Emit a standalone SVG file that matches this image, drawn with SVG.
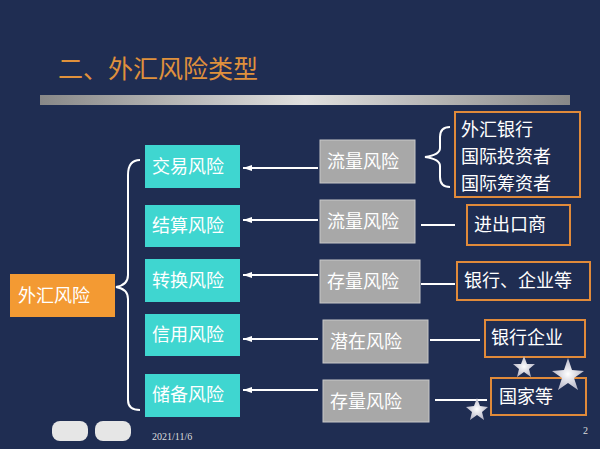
<svg xmlns="http://www.w3.org/2000/svg" width="600" height="449" viewBox="0 0 600 449">
<defs>
<style>
text{font-family:"Noto Sans CJK SC","Liberation Sans",sans-serif;}
.c{fill:#3fd6d0}
.g{fill:#a8a8a8;stroke:#c8c8c8;stroke-width:1}
.o{fill:none;stroke:#e08a3a;stroke-width:2}
.t{fill:#fff;font-size:18px}
.ln{stroke:#fff;stroke-width:2;fill:none}
</style>
<marker id="a" markerWidth="10" markerHeight="8" refX="9" refY="4" orient="auto" markerUnits="userSpaceOnUse"><path d="M0,1 L9,4 L0,7 Z" fill="#fff"/></marker>
<linearGradient id="bar" x1="0" x2="1"><stop offset="0" stop-color="#888"/><stop offset="0.5" stop-color="#e0e0e0"/><stop offset="1" stop-color="#888"/></linearGradient>
<radialGradient id="st"><stop offset="0" stop-color="#fff"/><stop offset="1" stop-color="#b8b8c8"/></radialGradient>
</defs>
<rect width="600" height="449" fill="#1f2d52"/>
<text x="58" y="78" style="fill:#e0913c;font-size:25px">二、外汇风险类型</text>
<rect x="40" y="95" width="530" height="10" fill="url(#bar)"/>
<g id="connectors">
<path class="ln" d="M140,160 Q128,160 128,175 L128,275 Q128,285 116,287 Q128,289 128,299 L128,400 Q128,410 140,410"/>
<line class="ln" x1="318" y1="168" x2="243" y2="168" marker-end="url(#a)"/>
<line class="ln" x1="318" y1="220" x2="243" y2="220" marker-end="url(#a)"/>
<line class="ln" x1="318" y1="275" x2="243" y2="275" marker-end="url(#a)"/>
<line class="ln" x1="318" y1="339" x2="243" y2="339" marker-end="url(#a)"/>
<line class="ln" x1="318" y1="390" x2="243" y2="390" marker-end="url(#a)"/>
<path class="ln" d="M450,127 Q440,127 440,137 L440,148 Q440,155 425,157 Q440,159 440,166 L440,177 Q440,187 450,187"/>
<line class="ln" x1="421" y1="225" x2="455" y2="225"/>
<line class="ln" x1="421" y1="284" x2="455" y2="284"/>
<line class="ln" x1="430" y1="340" x2="480" y2="340"/>
<line class="ln" x1="435" y1="400" x2="487" y2="400"/>
</g>
<g id="n0"><rect x="10" y="274" width="105" height="43" fill="#f39a33"/><text class="t" x="18" y="302">外汇风险</text></g>
<g id="c1"><rect class="c" x="145" y="145" width="95" height="43"/><text class="t" x="152" y="173">交易风险</text></g>
<g id="c2"><rect class="c" x="145" y="205" width="95" height="42"/><text class="t" x="152" y="232">结算风险</text></g>
<g id="c3"><rect class="c" x="145" y="259" width="95" height="43"/><text class="t" x="152" y="287">转换风险</text></g>
<g id="c4"><rect class="c" x="145" y="314" width="95" height="42"/><text class="t" x="152" y="341">信用风险</text></g>
<g id="c5"><rect class="c" x="145" y="374" width="95" height="43"/><text class="t" x="152" y="401">储备风险</text></g>
<g id="g1"><rect class="g" x="320" y="140" width="95" height="43"/><text class="t" x="327" y="168">流量风险</text></g>
<g id="g2"><rect class="g" x="320" y="200" width="95" height="43"/><text class="t" x="327" y="228">流量风险</text></g>
<g id="g3"><rect class="g" x="320" y="260" width="100" height="43"/><text class="t" x="327" y="288">存量风险</text></g>
<g id="g4"><rect class="g" x="323" y="320" width="105" height="43"/><text class="t" x="330" y="348">潜在风险</text></g>
<g id="g5"><rect class="g" x="323" y="380" width="106" height="42"/><text class="t" x="330" y="408">存量风险</text></g>
<g id="r1"><rect class="o" x="455" y="112" width="125" height="85"/><text class="t" x="461" y="136">外汇银行</text><text class="t" x="461" y="163">国际投资者</text><text class="t" x="461" y="190">国际筹资者</text></g>
<g id="r2"><rect class="o" x="467" y="205" width="103" height="40"/><text class="t" x="474" y="231">进出口商</text></g>
<g id="r3"><rect class="o" x="457" y="262" width="133" height="38"/><text class="t" x="464" y="287">银行、企业等</text></g>
<g id="r4"><rect class="o" x="485" y="320" width="100" height="37"/><text class="t" x="491" y="344">银行企业</text></g>
<g id="r5"><rect class="o" x="491" y="378" width="95" height="37"/><text class="t" x="499" y="403">国家等</text></g>
<g id="stars" fill="url(#st)">
<polygon points="524,356 527,364 535,364 529,369 531,377 524,372 517,377 519,369 513,364 521,364"/>
<polygon points="568,358 572,370 584,371 574,378 578,390 568,383 558,390 562,378 552,371 564,370"/>
<polygon points="477,398 480,406 488,407 482,412 484,420 477,415 470,420 472,412 466,407 474,406"/>
</g>
<rect x="52" y="421" width="36" height="20" rx="8" fill="#e6e6e6"/>
<rect x="95" y="421" width="36" height="20" rx="8" fill="#e6e6e6"/>
<text x="152" y="440" style="fill:#ddd;font-size:10px;font-family:'Liberation Serif',serif">2021/11/6</text>
<text x="583" y="434" style="fill:#ddd;font-size:10px;font-family:'Liberation Serif',serif">2</text>
</svg>
